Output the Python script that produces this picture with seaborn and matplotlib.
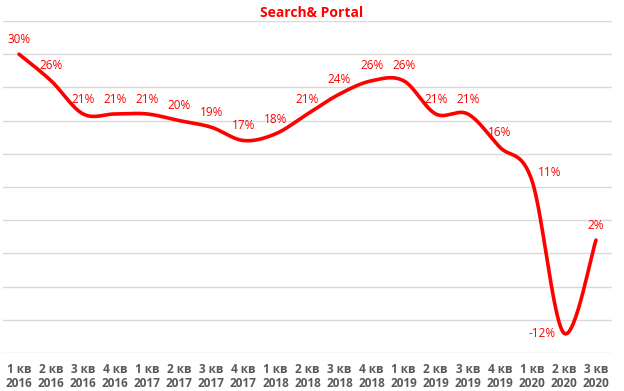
import numpy as np
import matplotlib
matplotlib.use("Agg")
import matplotlib.pyplot as plt
import seaborn as sns
import pandas as pd

# --- data ---
quarters = ["1 кв", "2 кв", "3 кв", "4 кв"] * 4 + ["1 кв", "2 кв", "3 кв"]
years = ["2016"] * 4 + ["2017"] * 4 + ["2018"] * 4 + ["2019"] * 4 + ["2020"] * 3
growth = [30, 26, 21, 21, 21, 20, 19, 17, 18, 21, 24, 26, 26, 21, 21, 16, 11, -12, 2]

labels = [f"{q}\n{y}" for q, y in zip(quarters, years)]

sns.set_theme(style="white")
plt.rcParams['font.family'] = ['Open Sans', 'DejaVu Sans']

# smooth line like Excel (Catmull-Rom through the points)
def smooth(x, y, n=30):
    x = np.asarray(x, float)
    y = np.asarray(y, float)
    px = np.concatenate([[x[0]], x, [x[-1]]])
    py = np.concatenate([[y[0]], y, [y[-1]]])
    xs, ys = [], []
    for i in range(1, len(px) - 2):
        t = np.linspace(0, 1, n, endpoint=False)
        b0x, b3x = px[i], px[i + 1]
        b1x = px[i] + (px[i + 1] - px[i - 1]) / 6
        b2x = px[i + 1] - (px[i + 2] - px[i]) / 6
        b0y, b3y = py[i], py[i + 1]
        b1y = py[i] + (py[i + 1] - py[i - 1]) / 6
        b2y = py[i + 1] - (py[i + 2] - py[i]) / 6
        xs.append((1-t)**3*b0x + 3*(1-t)**2*t*b1x + 3*(1-t)*t**2*b2x + t**3*b3x)
        ys.append((1-t)**3*b0y + 3*(1-t)**2*t*b1y + 3*(1-t)*t**2*b2y + t**3*b3y)
    xs.append([x[-1]])
    ys.append([y[-1]])
    return np.concatenate(xs), np.concatenate(ys)

pos = np.arange(len(growth))
sx, sy = smooth(pos, growth)
df = pd.DataFrame({"x": sx, "y": sy})

fig = plt.figure(figsize=(6.24, 3.91), dpi=100)
ax = fig.add_axes([3 / 624, 1 - 353 / 391, 609 / 624, 332 / 391])

sns.lineplot(data=df, x="x", y="y", ax=ax, color="#ff0000", linewidth=2.6, sort=False)

for i, v in enumerate(growth):
    if v == min(growth):
        ax.annotate(f"{v}%", (i, v), xytext=(-6, 0), textcoords="offset points",
                    ha="right", va="center", color="#ff0000", fontsize=8.5)
    elif i == 16:
        ax.annotate(f"{v}%", (i, v), xytext=(4, 6), textcoords="offset points",
                    ha="left", va="center", color="#ff0000", fontsize=8.5)
    else:
        ax.annotate(f"{v}%", (i, v), xytext=(0, 6), textcoords="offset points",
                    ha="center", va="bottom", color="#ff0000", fontsize=8.5)

ax.set_xlim(-0.5, len(growth) - 0.5)
ax.set_ylim(-15, 35)
ax.set_yticks(np.arange(-15, 36, 5))
ax.set_yticklabels([])
ax.tick_params(axis="y", length=0)
ax.set_xticks(pos)
ax.set_xticklabels(labels, fontsize=8.5, fontweight="bold", color="#595959",
                   linespacing=1.1)
ax.tick_params(axis="x", length=0, pad=7)
ax.grid(axis="y", color="#d9d9d9", linewidth=1)
ax.set_axisbelow(True)
for s in ax.spines.values():
    s.set_visible(False)
ax.set_xlabel("")
ax.set_ylabel("")

fig.text(0.5, 1 - 13 / 391, "Search& Portal", ha="center", va="center",
         color="#ff0000", fontsize=10, fontweight="bold")

fig.savefig("out.png", dpi=100)
